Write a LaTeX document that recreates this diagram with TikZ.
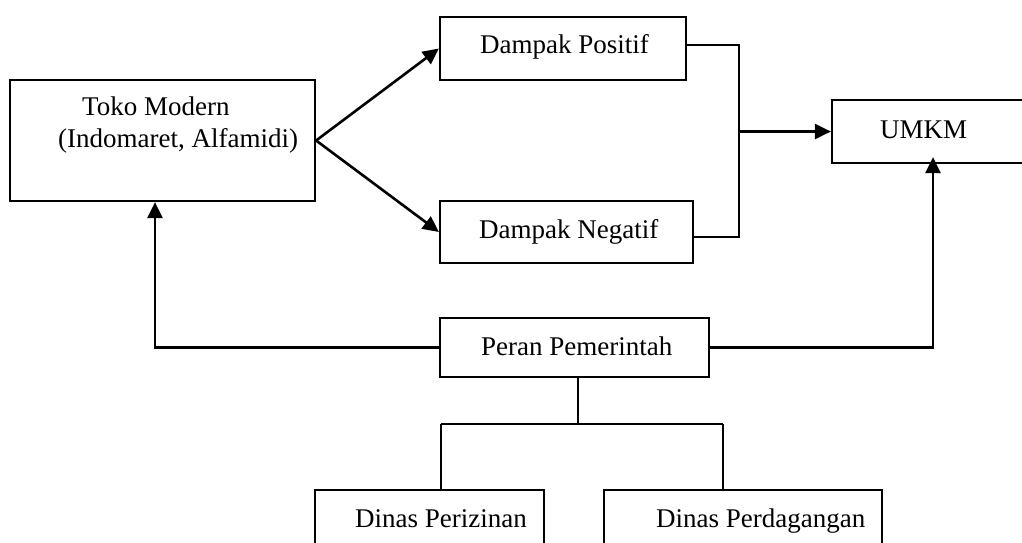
\documentclass[tikz,border=0pt]{standalone}
\usepackage{fontspec}
\setmainfont{Liberation Serif}
\usetikzlibrary{arrows.meta}
\begin{document}
\begin{tikzpicture}[x=1pt,y=-1pt,
  box/.style={draw,line width=2.2pt,minimum width=#1,inner sep=0pt,rectangle},
  lbl/.style={anchor=base west,inner sep=0pt,font=\fontsize{27}{32}\selectfont},
  conn/.style={line width=2.2pt},
  arr/.style={line width=2.6pt,-{Triangle[length=16pt,width=15pt]}}]
\useasboundingbox (0,0) rectangle (1022,543);
\clip (0,0) rectangle (1022,543);
% boxes
\node[box=305pt,minimum height=121pt] (toko) at (162.5,140.5) {};
\node[box=246pt,minimum height=63pt] (pos) at (563,48.5) {};
\node[box=253pt,minimum height=62pt] (neg) at (566.5,232) {};
\node[box=220pt,minimum height=63pt] (umkm) at (942,131.5) {};
\node[box=269pt,minimum height=59pt] (peran) at (574.5,347.5) {};
\node[box=229pt,minimum height=100pt] (periz) at (429.5,540) {};
\node[box=278pt,minimum height=100pt] (perd) at (743,540) {};
% texts
\node[lbl] (t1) at (82,115) {Toko Modern};
\node[lbl] (t2) at (58,147) {(Indomaret, Alfamidi)};
\node[lbl] (t3) at (480,53) {Dampak Positif};
\node[lbl] (t4) at (479,238) {Dampak Negatif};
\node[lbl] (t5) at (880,138) {UMKM};
\node[lbl] (t6) at (481,355) {Peran Pemerintah};
\node[lbl] (t7) at (355,527) {Dinas Perizinan};
\node[lbl] (t8) at (656,527) {Dinas Perdagangan};
% connectors
\coordinate (j) at (739,131.5);
\coordinate (bus) at (578,424);
\coordinate (bl) at (441,424);
\coordinate (br) at (723,424);
\draw[arr] (toko.east) -- (pos.west);
\draw[arr] (toko.east) -- (neg.west);
\draw[conn] ([yshift=3.5pt]pos.east) -| (j);
\draw[conn] ([yshift=-5pt]neg.east) -| (j);
\draw[arr] (j) -- (j -| umkm.west);
\draw[arr] (peran.east) -| ([xshift=-9pt,yshift=7pt]umkm.south);
\draw[arr] (peran.west) -| ([xshift=-7.5pt]toko.south);
\draw[conn] (bus |- peran.south) -- (bus);
\draw[conn] (bl) -- (br);
\draw[conn] (bl) -- (bl |- periz.north);
\draw[conn] (br) -- (br |- perd.north);
\end{tikzpicture}
\end{document}
